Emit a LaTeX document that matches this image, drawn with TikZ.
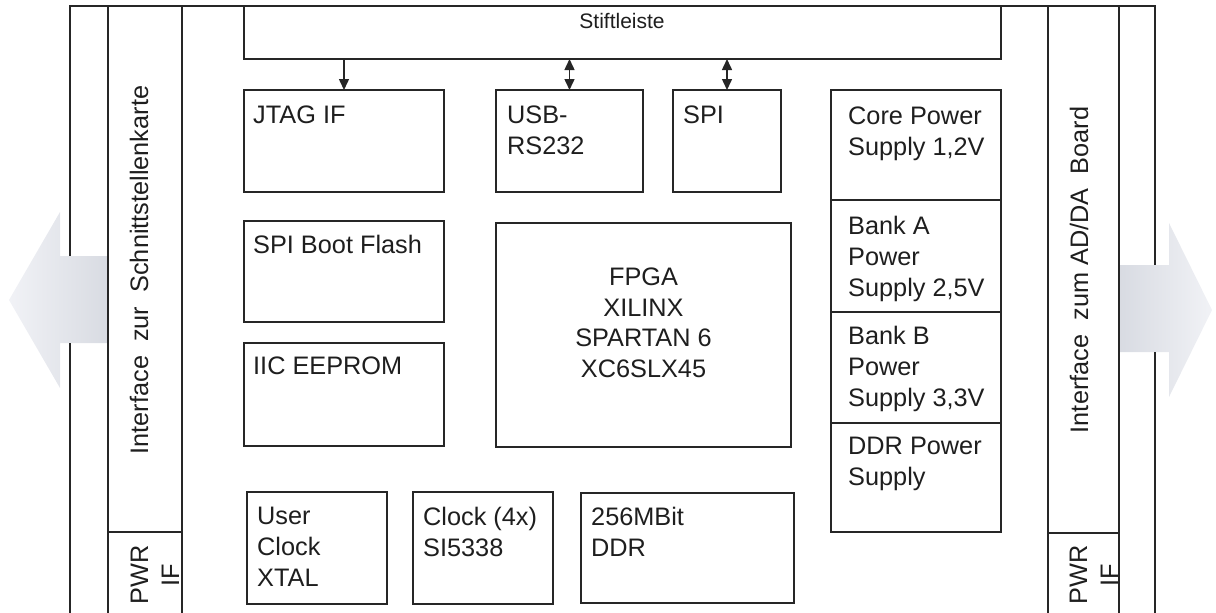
\documentclass[tikz,border=0pt]{standalone}
\usepackage{fontspec}
\setmainfont{Liberation Sans}
\usetikzlibrary{arrows.meta}
\definecolor{lc}{HTML}{262626}
\definecolor{tc}{HTML}{1E1E1E}
\definecolor{arrL}{HTML}{F1F2F6}
\definecolor{arrD}{HTML}{D8DBE2}
\begin{document}
\begin{tikzpicture}[x=1pt,y=-1pt,
  ln/.style={draw=lc, line width=1.5pt},
  blk/.style 2 args={draw=lc, line width=1.5pt, minimum width=#1, minimum height=#2, anchor=north west, inner sep=0pt, outer sep=0pt},
  txt/.style={text=tc, font=\fontsize{25.3}{31}\selectfont, align=left, anchor=north west, inner sep=0pt},
  ctxt/.style={text=tc, font=\fontsize{25.3}{30.5}\selectfont, align=center, anchor=north, inner sep=0pt},
  rtxt/.style={text=tc, font=\fontsize{25.3}{31}\selectfont, align=center, rotate=90, inner sep=0pt},
  conn/.style={draw=lc, line width=1.5pt},
  tip/.style={-{Triangle[length=11pt,width=10pt]}},
  dtip/.style={{Triangle[length=11pt,width=10pt]}-{Triangle[length=11pt,width=10pt]}}]
\useasboundingbox (0,0) rectangle (1216,613);

% big interface arrows
\shade[left color=arrL, right color=arrD] (9,300) -- (60,212) -- (60,256) -- (108,256) -- (108,343) -- (60,343) -- (60,388) -- cycle;
\shade[left color=arrD, right color=arrL] (1119,265) -- (1169,265) -- (1169,223) -- (1212,310) -- (1169,397) -- (1169,352) -- (1119,352) -- cycle;

% frame lines
\draw[ln, line join=miter] (70,256) -- (70,6) -- (1155,6) -- (1155,265);
\draw[ln] (70,343) -- (70,613);
\draw[ln] (1155,352) -- (1155,613);
\draw[ln] (108,6) -- (108,613);
\draw[ln] (182,6) -- (182,613);
\draw[ln] (1048,6) -- (1048,613);
\draw[ln] (1119,6) -- (1119,613);
\draw[ln] (108,532) -- (182,532);
\draw[ln] (1048,533) -- (1119,533);

% side texts
\node[rtxt, anchor=base] (ifL) at (148,270) {Interface~~zur~~Schnittstellenkarte};
\node[rtxt, anchor=base] (ifR) at (1088,270) {Interface~~zum~AD/DA~~Board};
\node[rtxt, anchor=center] (pwrL) at (155,575) {PWR\\IF};
\node[rtxt, anchor=center] (pwrR) at (1094,575) {PWR\\IF};

% blocks
\node[blk={757pt}{53pt}] (stift) at (244,6) {};
\node[text=tc, font=\fontsize{21}{24}\selectfont, anchor=north, inner sep=0pt] (stiftT) at (622,13.5) {Stiftleiste};

\node[blk={200pt}{102pt}] (jtag) at (244,90) {};
\node[blk={147pt}{102pt}] (usb) at (496,90) {};
\node[blk={108pt}{102pt}] (spi) at (673,90) {};
\node[blk={170pt}{110pt}] (core) at (831,90) {};
\node[blk={170pt}{112pt}] (banka) at (831,200) {};
\node[blk={170pt}{111pt}] (bankb) at (831,312) {};
\node[blk={170pt}{109pt}] (ddrp) at (831,423) {};
\node[blk={200pt}{101pt}] (flash) at (244,221) {};
\node[blk={200pt}{103pt}] (iic) at (244,343) {};
\node[blk={295pt}{224pt}] (fpga) at (496,223) {};
\node[blk={140pt}{112pt}] (uclk) at (247,492) {};
\node[blk={140pt}{112pt}] (clk4) at (413,492) {};
\node[blk={213pt}{110pt}] (ddr) at (581,493) {};

% block texts
\node[txt] (jtagT) at (253,106) {JTAG IF};
\node[txt] (usbT) at (507,106) {USB-\\RS232};
\node[txt] (spiT) at (683,106) {SPI};
\node[txt] (coreT) at (848,107) {Core Power\\Supply 1,2V};
\node[txt] (bankaT) at (848,216) {Bank A\\Power\\Supply 2,5V};
\node[txt] (bankbT) at (848,326) {Bank B\\Power\\Supply 3,3V};
\node[txt] (ddrpT) at (848,437) {DDR Power\\Supply};
\node[txt] (flashT) at (253,235) {SPI Boot Flash};
\node[txt] (iicT) at (253,357) {IIC EEPROM};
\node[ctxt] (fpgaT) at (643.5,268) {FPGA\\XILINX\\SPARTAN 6\\XC6SLX45};
\node[txt] (uclkT) at (257,507) {User\\Clock\\XTAL};
\node[txt] (clk4T) at (423,507) {Clock (4x)\\SI5338};
\node[txt] (ddrT) at (591,507) {256MBit\\DDR};

% connectors
\draw[conn, tip] (stift.south -| jtag.north) -- (jtag.north);
\draw[conn, dtip] (stift.south -| usb.north) -- (usb.north);
\draw[conn, dtip] (stift.south -| spi.north) -- (spi.north);
\end{tikzpicture}
\end{document}
